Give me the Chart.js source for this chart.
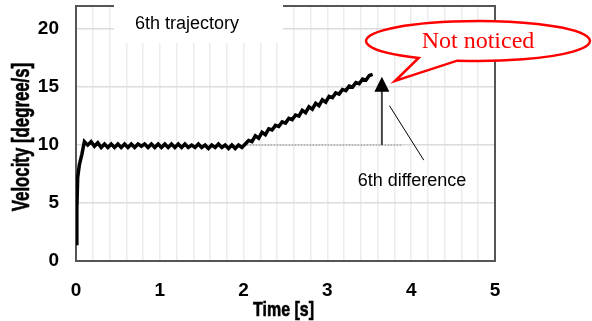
<!DOCTYPE html>
<html>
<head>
<meta charset="utf-8">
<script src="https://cdn.jsdelivr.net/npm/chart.js@4.4.0/dist/chart.umd.min.js"></script>
<style>
  body { margin: 0; background: #fff; }
  canvas { display: block; }
</style>
</head>
<body>
<canvas id="chart" width="592" height="321"></canvas>
<script>
// Velocity trace (time in s, velocity in degree/s)
const times = [
  0, 0.01, 0.02, 0.04, 0.07,
  0.10, 0.14, 0.18, 0.22, 0.26, 0.30, 0.34, 0.38, 0.42, 0.46, 0.50,
  0.54, 0.58, 0.62, 0.66, 0.70, 0.74, 0.78, 0.82, 0.86, 0.90, 0.94,
  0.98, 1.02, 1.06, 1.10, 1.14, 1.18, 1.22, 1.26, 1.30, 1.34, 1.38,
  1.42, 1.46, 1.50, 1.54, 1.58, 1.62, 1.66, 1.70, 1.74, 1.78, 1.82,
  1.86, 1.90, 1.94, 1.98, 2.02, 2.06, 2.10, 2.14, 2.18, 2.22, 2.26,
  2.30, 2.34, 2.38, 2.42, 2.46, 2.50, 2.54, 2.58, 2.62, 2.66, 2.70,
  2.74, 2.78, 2.82, 2.86, 2.90, 2.94, 2.98, 3.02, 3.06, 3.10, 3.14,
  3.18, 3.22, 3.26, 3.30, 3.34, 3.38, 3.42, 3.46, 3.50, 3.54
];
const velocity = [
  1.5, 4.5, 7.2, 8.3, 9.2,
  10.3, 10.0, 10.3, 9.9, 10.2, 9.8, 10.1, 9.8, 10.1, 9.8, 10.1,
  9.8, 10.1, 9.8, 10.1, 9.8, 10.1, 9.9, 10.1, 9.8, 10.1, 9.8,
  10.1, 9.8, 10.1, 9.8, 10.1, 9.8, 10.1, 9.8, 10.1, 9.8, 10.0,
  9.8, 10.1, 9.8, 10.0, 9.7, 10.0, 9.8, 10.1, 9.8, 10.0, 9.7,
  10.0, 9.7, 10.0, 9.8, 10.1, 10.4, 10.3, 10.8, 10.6, 11.1, 10.9,
  11.4, 11.3, 11.7, 11.6, 12.0, 11.9, 12.3, 12.2, 12.6, 12.5, 13.0,
  12.8, 13.3, 13.1, 13.6, 13.4, 13.9, 13.7, 14.2, 14.1, 14.5, 14.4,
  14.8, 14.7, 15.1, 15.0, 15.4, 15.3, 15.7, 15.6, 16.0, 16.1
];

// Reference level and the annotation marks (data units)
const refLevel = [10, 10];
const refSpan = [2.0, 3.9];
const arrowX = 3.65;
const arrowTip = 15.9;
const pointerFrom = [3.74, 13.4];
const pointerTo = [4.15, 8.7];
const diffLabel = '6th difference';
const titleLabel = '6th trajectory';
const calloutLabel = 'Not noticed';

const xTicks = ['0', '1', '2', '3', '4', '5'];
const yTicks = ['0', '5', '10', '15', '20'];

const tickFont = { family: "'Liberation Sans', Arial, sans-serif", size: 19, weight: 'bold' };

// squeezed bold text, the original axis titles look compressed
function squeezedText(ctx, text, x, y, sx, angle) {
  ctx.save();
  ctx.translate(x, y);
  ctx.rotate(angle);
  ctx.scale(sx, 1);
  ctx.fillText(text, 0, 0);
  ctx.lineWidth = 0.6;
  ctx.strokeStyle = '#000';
  ctx.strokeText(text, 0, 0);
  ctx.restore();
}

// Draws plot frame, axis titles and the annotations on top of the chart
const decorations = {
  id: 'decorations',
  beforeDatasetsDraw(chart) {
    const { ctx, chartArea: a } = chart;
    ctx.save();
    ctx.strokeStyle = '#555';
    ctx.lineWidth = 2;
    ctx.strokeRect(a.left, a.top, a.right - a.left, a.bottom - a.top);
    ctx.restore();
  },
  afterDraw(chart) {
    const { ctx, chartArea: a } = chart;
    const xs = chart.scales.x;
    const ys = chart.scales.y;
    ctx.save();

    ctx.fillStyle = '#000';
    ctx.textAlign = 'center';
    ctx.textBaseline = 'middle';
    ctx.font = "bold 23px 'Liberation Sans', Arial, sans-serif";
    squeezedText(ctx, 'Velocity [degree/s]', 23, 137, 0.73, -Math.PI / 2);
    ctx.font = "bold 21px 'Liberation Sans', Arial, sans-serif";
    squeezedText(ctx, 'Time [s]', (a.left + a.right) / 2 - 2, 310, 0.76, 0);

    // vertical arrow
    const ax = xs.getPixelForValue(arrowX);
    const tipY = ys.getPixelForValue(arrowTip);
    ctx.strokeStyle = '#444';
    ctx.lineWidth = 2;
    ctx.beginPath();
    ctx.moveTo(ax, ys.getPixelForValue(refLevel[0]));
    ctx.lineTo(ax, tipY + 12);
    ctx.stroke();
    ctx.fillStyle = '#000';
    ctx.beginPath();
    ctx.moveTo(ax, tipY);
    ctx.lineTo(ax - 7.5, tipY + 15);
    ctx.lineTo(ax + 7.5, tipY + 15);
    ctx.closePath();
    ctx.fill();

    // pointer line + label
    ctx.strokeStyle = '#000';
    ctx.lineWidth = 1;
    ctx.beginPath();
    ctx.moveTo(xs.getPixelForValue(pointerFrom[0]), ys.getPixelForValue(pointerFrom[1]));
    ctx.lineTo(xs.getPixelForValue(pointerTo[0]), ys.getPixelForValue(pointerTo[1]));
    ctx.stroke();
    ctx.font = "18px 'Liberation Sans', Arial, sans-serif";
    ctx.fillStyle = '#000';
    ctx.fillText(diffLabel, 412, 181);

    // title box
    ctx.fillStyle = '#fff';
    ctx.fillRect(114, 0, 169, 43);
    ctx.fillStyle = '#000';
    ctx.font = "18px 'Liberation Sans', Arial, sans-serif";
    ctx.fillText(titleLabel, 187, 24);

    // speech bubble
    const cx = 478, cy = 41, rx = 112, ry = 20;
    ctx.beginPath();
    ctx.ellipse(cx, cy, rx, ry, 0, 122 * Math.PI / 180, 100.7 * Math.PI / 180);
    ctx.lineTo(395, 81);
    ctx.closePath();
    ctx.fillStyle = '#fff';
    ctx.fill();
    ctx.strokeStyle = '#f00';
    ctx.lineWidth = 2.5;
    ctx.lineJoin = 'miter';
    ctx.stroke();
    ctx.fillStyle = '#f00';
    ctx.font = "24px 'Liberation Serif', 'Times New Roman', serif";
    ctx.fillText(calloutLabel, cx, cy + 1);

    ctx.restore();
  }
};

new Chart(document.getElementById('chart'), {
  type: 'scatter',
  data: {
    datasets: [
      {
        data: times.map((t, i) => ({ x: t, y: velocity[i] })),
        showLine: true,
        borderColor: '#000',
        borderWidth: 3.5,
        pointRadius: 0,
        tension: 0,
        order: 1
      },
      {
        data: refSpan.map((t, i) => ({ x: t, y: refLevel[i] })),
        showLine: true,
        borderColor: '#888',
        borderWidth: 1,
        borderDash: [1.5, 1.5],
        pointRadius: 0,
        order: 2
      }
    ]
  },
  options: {
    responsive: false,
    animation: false,
    layout: { padding: { left: 0, top: 6, right: 97, bottom: 0 } },
    plugins: {
      legend: { display: false },
      tooltip: { enabled: false }
    },
    scales: {
      x: {
        type: 'linear',
        min: 0,
        max: 5,
        afterFit(scale) {
          scale.height = 60;
          scale.paddingLeft = 0;
          scale.paddingRight = 0;
        },
        grid: { color: '#ececec', lineWidth: 1.5, drawTicks: false },
        border: { display: false },
        ticks: {
          stepSize: 0.2,
          autoSkip: false,
          maxRotation: 0,
          padding: 18,
          color: '#000',
          font: tickFont,
          callback: v => {
            const r = Math.round(v);
            return Math.abs(v - r) < 1e-6 ? xTicks[r] : '';
          }
        }
      },
      y: {
        min: 0,
        max: 22,
        afterFit(scale) {
          scale.width = 76;
          scale.paddingTop = 0;
          scale.paddingBottom = 0;
        },
        grid: { color: '#dcdcdc', lineWidth: 1.5, drawTicks: false },
        border: { display: false },
        ticks: {
          stepSize: 5,
          includeBounds: false,
          padding: 17,
          color: '#000',
          font: tickFont,
          callback: v => yTicks[v / 5]
        }
      }
    }
  },
  plugins: [decorations]
});
</script>
</body>
</html>
